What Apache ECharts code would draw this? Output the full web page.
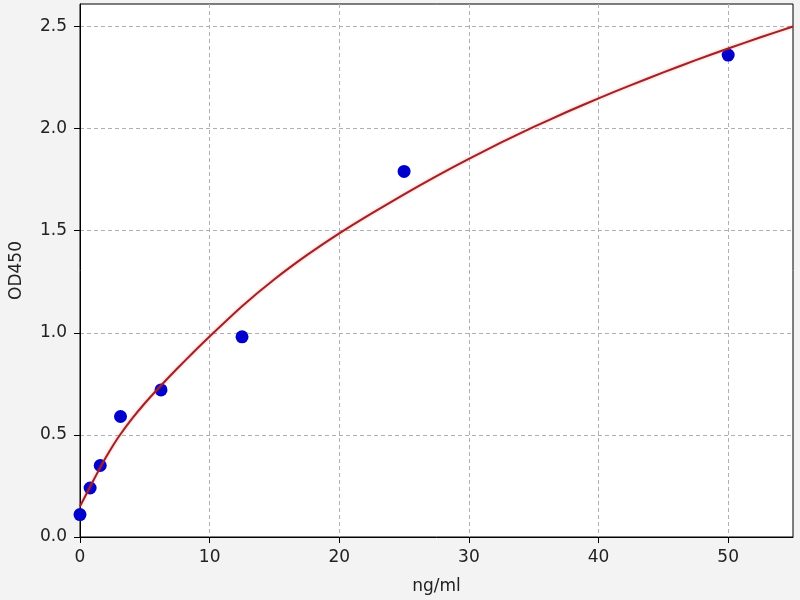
<!DOCTYPE html>
<html>
<head>
<meta charset="utf-8">
<script src="https://cdn.jsdelivr.net/npm/echarts@6/dist/echarts.min.js"></script>
<style>html,body{margin:0;padding:0;background:#f3f3f3;}#c{width:800px;height:600px;}</style>
</head>
<body>
<div id="c"></div>
<script>
// Measured standard points (ng/ml, OD450)
var concX = [0, 0.78, 1.56, 3.125, 6.25, 12.5, 25, 50];
var odY   = [0.11, 0.24, 0.35, 0.59, 0.72, 0.98, 1.79, 2.36];
// Fitted curve
var curveX = [0, 0.5, 1, 1.5, 2, 2.5, 3, 4, 5, 6.25, 7.5, 8.75, 10, 12.5, 15, 17.5, 20, 22.5, 25, 27.5, 30, 32.5, 35, 37.5, 40, 42.5, 45, 47.5, 50, 52.5, 55];
var curveY = [0.15, 0.212, 0.273, 0.333, 0.39, 0.443, 0.492, 0.578, 0.655, 0.742, 0.825, 0.905, 0.982, 1.13, 1.262, 1.38, 1.487, 1.585, 1.678, 1.767, 1.852, 1.932, 2.008, 2.08, 2.148, 2.213, 2.275, 2.335, 2.392, 2.447, 2.50];
var xTicks = [0, 10, 20, 30, 40, 50];
var yTicks = [0, 0.5, 1.0, 1.5, 2.0, 2.5];

var pts = concX.map(function(x, i){ return [x, odY[i]]; });
var curve = curveX.map(function(x, i){ return [x, curveY[i]]; });
var font = 'DejaVu Sans';
var chart = echarts.init(document.getElementById('c'));
chart.setOption({
  backgroundColor: '#f3f3f3',
  animation: false,
  grid: {left: 77, right: 7, top: 4, bottom: 62, show: true, backgroundColor: '#ffffff', borderColor: '#000', borderWidth: 1},
  xAxis: {
    type: 'value', min: 0, max: 55, interval: 10,
    name: 'ng/ml', nameLocation: 'middle', nameGap: 41,
    nameTextStyle: {fontFamily: font, fontSize: 17, color: '#222'},
    axisLine: {show: true, lineStyle: {color: '#000', width: 1}},
    axisTick: {show: true, length: 6, lineStyle: {color: '#000'}, customValues: xTicks},
    axisLabel: {fontFamily: font, fontSize: 17, color: '#222', margin: 12, customValues: xTicks},
    splitLine: {show: true, lineStyle: {color: '#b0b0b0', type: [4, 3], width: 1}}
  },
  yAxis: {
    type: 'value', min: 0, max: 2.61, interval: 0.5,
    name: 'OD450', nameLocation: 'middle', nameGap: 55, nameRotate: 90,
    nameTextStyle: {fontFamily: font, fontSize: 17, color: '#222'},
    axisLine: {show: true, lineStyle: {color: '#000', width: 1}},
    axisTick: {show: true, length: 6, lineStyle: {color: '#000'}, customValues: yTicks},
    axisLabel: {fontFamily: font, fontSize: 17, color: '#222', margin: 13, customValues: yTicks,
      formatter: function(v){ return v.toFixed(1); }},
    splitLine: {show: true, lineStyle: {color: '#b0b0b0', type: [4, 3], width: 1}}
  },
  series: [
    {type: 'scatter', data: pts, symbolSize: 13, itemStyle: {color: '#0000cc', opacity: 1}, z: 2},
    {type: 'line', data: curve, smooth: 0.2, showSymbol: false, symbol: 'none',
     lineStyle: {color: '#9e2226', width: 2, shadowColor: 'rgba(255,60,60,0.45)', shadowBlur: 3}, z: 3}
  ]
});
</script>
</body>
</html>
